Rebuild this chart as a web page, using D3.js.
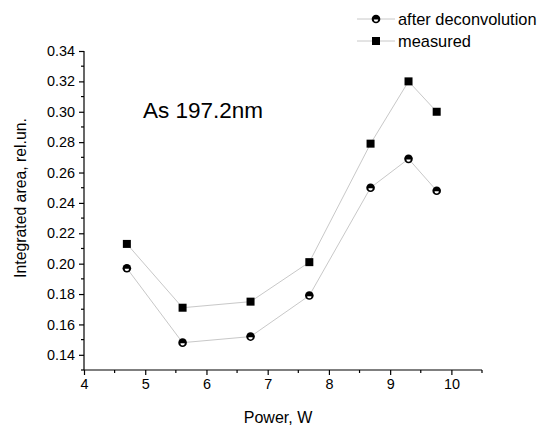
<!DOCTYPE html>
<html>
<head>
<meta charset="utf-8">
<script src="https://cdn.jsdelivr.net/npm/d3@7"></script>
<style>
  html, body { margin: 0; padding: 0; background: #fff; }
  svg { display: block; font-family: "Liberation Sans", Arial, sans-serif; }
</style>
</head>
<body>
<svg id="chart" width="539" height="428"></svg>
<script>
// Excitation power (W)
const power = [4.70, 5.61, 6.72, 7.68, 8.68, 9.30, 9.76];
// Integrated line area, relative units
const afterDeconvolution = [0.197, 0.148, 0.152, 0.179, 0.250, 0.269, 0.248];
const measured = [0.213, 0.171, 0.175, 0.201, 0.279, 0.320, 0.300];

const xTicks = [4, 5, 6, 7, 8, 9, 10];
const yTicks = [0.14, 0.16, 0.18, 0.20, 0.22, 0.24, 0.26, 0.28, 0.30, 0.32, 0.34];
const xMinor = [4.5, 5.5, 6.5, 7.5, 8.5, 9.5, 10.5];
const yMinor = [0.13, 0.15, 0.17, 0.19, 0.21, 0.23, 0.25, 0.27, 0.29, 0.31, 0.33];

const seriesNames = ["after deconvolution", "measured"];
const annotation = "As 197.2nm";
const xTitle = "Power, W";
const yTitle = "Integrated area, rel.un.";

const svg = d3.select("#chart");
const margin = { left: 84, right: 57, top: 51, bottom: 58 };
const W = 539, H = 428;

const x = d3.scaleLinear().domain([4, 10.5]).range([margin.left, W - margin.right]);
const y = d3.scaleLinear().domain([0.13, 0.34]).range([H - margin.bottom, margin.top]);

// connecting lines
const line = d3.line().x(d => x(d[0])).y(d => y(d[1]));
const lineColor = "#c8c8c8";
[afterDeconvolution, measured].forEach(vals => {
  svg.append("path")
    .datum(power.map((p, i) => [p, vals[i]]))
    .attr("d", line)
    .attr("fill", "none")
    .attr("stroke", lineColor)
    .attr("stroke-width", 1);
});

// axes
const xAxis = d3.axisBottom(x).tickValues(xTicks).tickFormat(d3.format("d")).tickSize(5).tickPadding(4);
const yAxis = d3.axisLeft(y).tickValues(yTicks).tickFormat(d3.format(".2f")).tickSize(5).tickPadding(4);

const gx = svg.append("g").attr("transform", `translate(0,${y(0.13)})`).call(xAxis);
const gy = svg.append("g").attr("transform", `translate(${x(4)},0)`).call(yAxis);
[gx, gy].forEach(g => {
  g.select(".domain").attr("stroke", "#000").attr("stroke-width", 1.2);
  g.selectAll(".tick line").attr("stroke", "#000").attr("stroke-width", 1.2);
  g.selectAll(".tick text").attr("fill", "#000").style("font-size", "14.4px")
    .style("font-family", '"Liberation Sans", Arial, sans-serif');
});
gx.select(".domain").attr("d", `M${x(4)},0H${x(10.5)}`);
gy.select(".domain").attr("d", `M0,${y(0.13)}V${y(0.34)}`);

// minor ticks
svg.append("g").selectAll("line").data(xMinor).join("line")
  .attr("x1", d => x(d)).attr("x2", d => x(d))
  .attr("y1", y(0.13)).attr("y2", y(0.13) + 3)
  .attr("stroke", "#000").attr("stroke-width", 1.2);
svg.append("g").selectAll("line").data(yMinor).join("line")
  .attr("x1", x(4)).attr("x2", x(4) - 3)
  .attr("y1", d => y(d)).attr("y2", d => y(d))
  .attr("stroke", "#000").attr("stroke-width", 1.2);

// markers
function halfCircle(g, cx, cy) {
  g.append("circle").attr("cx", cx).attr("cy", cy).attr("r", 4.3).attr("fill", "#000");
  g.append("path")
    .attr("d", `M${cx - 2.2},${cy + 0.6}A2.2,2.2 0 0 0 ${cx + 2.2},${cy + 0.6}Z`)
    .attr("fill", "#fff");
}
function square(g, cx, cy) {
  g.append("rect").attr("x", cx - 4).attr("y", cy - 4).attr("width", 8).attr("height", 8).attr("fill", "#000");
}
const mk = svg.append("g");
power.forEach((p, i) => {
  square(mk, x(p), y(measured[i]));
  halfCircle(mk, x(p), y(afterDeconvolution[i]));
});

// annotation
svg.append("text").attr("x", 143).attr("y", 118)
  .style("font-size", "22.5px").attr("fill", "#000").text(annotation);

// axis titles
svg.append("text").attr("x", 278).attr("y", 423)
  .attr("text-anchor", "middle").style("font-size", "16px").attr("fill", "#000").text(xTitle);
svg.append("text")
  .attr("transform", `translate(26,198) rotate(-90)`)
  .attr("text-anchor", "middle").style("font-size", "15.8px").attr("fill", "#000").text(yTitle);

// legend
const leg = svg.append("g");
const legRows = [
  { name: seriesNames[0], y: 19, draw: halfCircle },
  { name: seriesNames[1], y: 41, draw: square }
];
legRows.forEach(r => {
  leg.append("line").attr("x1", 357).attr("x2", 395).attr("y1", r.y).attr("y2", r.y)
    .attr("stroke", lineColor).attr("stroke-width", 1);
  r.draw(leg, 376, r.y);
  leg.append("text").attr("x", 398).attr("y", r.y + 5.5)
    .style("font-size", "16.4px").attr("fill", "#000").text(r.name);
});
</script>
</body>
</html>
